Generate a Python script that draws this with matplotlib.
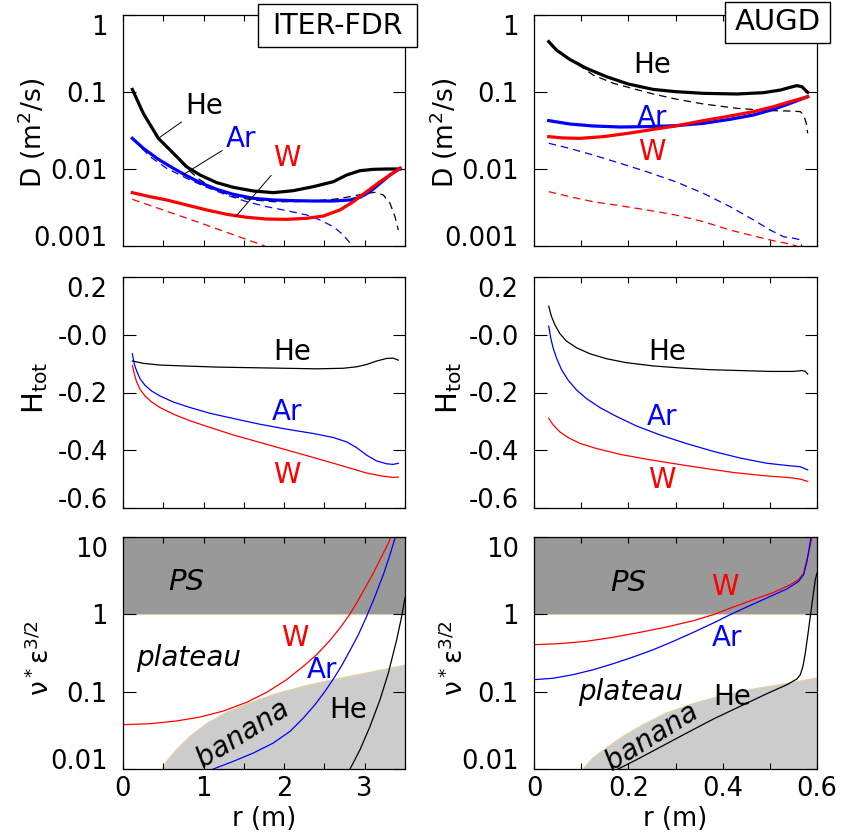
import numpy as np
import matplotlib
matplotlib.use("Agg")
import matplotlib.pyplot as plt
from matplotlib.patches import Rectangle
from matplotlib.ticker import FixedLocator, NullLocator

plt.rcParams['font.family'] = ['DejaVu Sans']
plt.rcParams['mathtext.fontset'] = 'dejavusans'

# ---------------- ITER-FDR : D (m^2/s) ----------------
iter_he_D_r = [0.116, 0.252, 0.439, 0.625, 0.790, 0.956, 1.163, 1.369, 1.618, 1.866, 2.114, 2.362, 2.611, 2.776, 2.942, 3.107, 3.273, 3.438]
iter_he_D = [0.108, 0.0528, 0.0250, 0.0160, 0.0107, 0.00836, 0.00665, 0.00578, 0.00518, 0.00493, 0.00523, 0.00590, 0.00684, 0.00836, 0.00951, 0.00990, 0.0100, 0.0100]
iter_he_Dn_r = [0.116, 0.252, 0.439, 0.625, 0.790, 0.956, 1.163, 1.369, 1.618, 1.866, 2.114, 2.362, 2.611, 2.818, 3.024, 3.128, 3.231, 3.314, 3.376, 3.417]
iter_he_Dn = [0.108, 0.0528, 0.0250, 0.0158, 0.0102, 0.0072, 0.00534, 0.00437, 0.00396, 0.00376, 0.00376, 0.00384, 0.00404, 0.00437, 0.00483, 0.00498, 0.00460, 0.00358, 0.0024, 0.00161]
iter_ar_D_r = [0.116, 0.252, 0.439, 0.625, 0.790, 0.956, 1.163, 1.369, 1.618, 1.866, 2.114, 2.362, 2.611, 2.818, 2.942, 3.066, 3.190, 3.314, 3.438]
iter_ar_D = [0.025, 0.01855, 0.01336, 0.0102, 0.00819, 0.00665, 0.00544, 0.00469, 0.00416, 0.00396, 0.00388, 0.00384, 0.00384, 0.00396, 0.00429, 0.00508, 0.00652, 0.00836, 0.0102]
iter_ar_Dn_r = [0.128, 0.335, 0.542, 0.790, 1.038, 1.287, 1.535, 1.783, 2.031, 2.280, 2.445, 2.611, 2.735, 2.838]
iter_ar_Dn = [0.0243, 0.0145, 0.0102, 0.00757, 0.00578, 0.0046, 0.00376, 0.00324, 0.00288, 0.00253, 0.00218, 0.00178, 0.00139, 0.00103]
iter_w_D_r = [0.116, 0.335, 0.542, 0.790, 1.038, 1.287, 1.535, 1.783, 2.031, 2.280, 2.487, 2.693, 2.859, 3.024, 3.190, 3.314, 3.438]
iter_w_D = [0.00493, 0.00437, 0.00396, 0.00341, 0.00294, 0.00258, 0.00236, 0.00224, 0.00222, 0.00229, 0.00245, 0.00294, 0.00376, 0.00508, 0.00684, 0.00836, 0.0102]
iter_w_Dn_r = [0.116, 0.95, 1.762]
iter_w_Dn = [0.00404, 0.00201, 0.001]

# ---------------- AUGD : D (m^2/s) ----------------
augd_he_D_r = [0.0312, 0.0475, 0.0758, 0.1112, 0.1537, 0.1998, 0.2529, 0.3003, 0.3591, 0.430, 0.4867, 0.5221, 0.5433, 0.5575, 0.5681, 0.5752, 0.5802]
augd_he_D = [0.451, 0.351, 0.265, 0.203, 0.158, 0.127, 0.108, 0.101, 0.0961, 0.0942, 0.098, 0.106, 0.115, 0.121, 0.117, 0.106, 0.099]
augd_he_Dn_r = [0.0312, 0.0475, 0.0758, 0.090, 0.1254, 0.1679, 0.1998, 0.2529, 0.3003, 0.3591, 0.430, 0.5008, 0.5362, 0.5646, 0.5717, 0.5773, 0.5802]
augd_he_Dn = [0.451, 0.351, 0.265, 0.236, 0.166, 0.130, 0.115, 0.0942, 0.0811, 0.0699, 0.0614, 0.0573, 0.0567, 0.0556, 0.0503, 0.0392, 0.0291]
augd_ar_D_r = [0.0312, 0.0758, 0.1254, 0.1820, 0.2387, 0.3003, 0.3591, 0.4158, 0.4654, 0.5079, 0.5433, 0.5802]
augd_ar_D = [0.0425, 0.0384, 0.0362, 0.0351, 0.0355, 0.0365, 0.0392, 0.0442, 0.0503, 0.0596, 0.0713, 0.0869]
augd_w_D_r = [0.0312, 0.0616, 0.0970, 0.1466, 0.1998, 0.2529, 0.3003, 0.3591, 0.4158, 0.4654, 0.5079, 0.5433, 0.5802]
augd_w_D = [0.0263, 0.0253, 0.025, 0.0263, 0.0291, 0.0327, 0.0362, 0.0425, 0.0488, 0.0556, 0.0645, 0.0749, 0.0869]
augd_ar_Dn_r = [0.0312, 0.0758, 0.1254, 0.1820, 0.2387, 0.3003, 0.3591, 0.4158, 0.4654, 0.5008, 0.5292, 0.5504, 0.5610, 0.5681]
augd_ar_Dn = [0.0216, 0.0185, 0.0152, 0.0119, 0.00923, 0.00684, 0.00483, 0.00324, 0.00218, 0.00161, 0.00132, 0.00126, 0.00122, 0.001]
augd_w_Dn_r = [0.0312, 0.0758, 0.1254, 0.1820, 0.2387, 0.3003, 0.3591, 0.4158, 0.4654, 0.5079, 0.5362, 0.5575]
augd_w_Dn = [0.00508, 0.00437, 0.00376, 0.00334, 0.00294, 0.00253, 0.00207, 0.00161, 0.00135, 0.00117, 0.00108, 0.001]

# ---------------- ITER-FDR : H_tot ----------------
iter_he_H_r = [0.116, 0.252, 0.459, 0.749, 1.163, 1.576, 1.990, 2.404, 2.735, 2.900, 3.024, 3.148, 3.273, 3.355, 3.417]
iter_he_H = [-0.091, -0.099, -0.105, -0.108, -0.112, -0.114, -0.116, -0.118, -0.116, -0.111, -0.103, -0.091, -0.082, -0.081, -0.088]
iter_ar_H_r = [0.116, 0.141, 0.170, 0.211, 0.273, 0.356, 0.459, 0.625, 0.832, 1.080, 1.369, 1.700, 2.031, 2.362, 2.611, 2.776, 2.900, 3.024, 3.148, 3.273, 3.355, 3.417]
iter_ar_H = [-0.066, -0.1025, -0.126, -0.152, -0.175, -0.195, -0.212, -0.233, -0.252, -0.272, -0.290, -0.310, -0.327, -0.342, -0.356, -0.371, -0.391, -0.417, -0.437, -0.447, -0.449, -0.445]
iter_w_H_r = [0.116, 0.141, 0.170, 0.211, 0.273, 0.356, 0.459, 0.625, 0.832, 1.080, 1.369, 1.700, 2.031, 2.362, 2.611, 2.818, 3.024, 3.231, 3.355, 3.417]
iter_w_H = [-0.106, -0.137, -0.164, -0.189, -0.212, -0.233, -0.252, -0.275, -0.298, -0.321, -0.347, -0.373, -0.399, -0.425, -0.445, -0.462, -0.479, -0.490, -0.494, -0.493]

# ---------------- AUGD : H_tot ----------------
augd_he_H_r = [0.0312, 0.0368, 0.0439, 0.0545, 0.0687, 0.090, 0.1183, 0.1537, 0.1962, 0.2529, 0.3096, 0.3733, 0.4371, 0.5008, 0.5504, 0.5681, 0.5752, 0.5802]
augd_he_H = [0.099, 0.0645, 0.0357, 0.0046, -0.0219, -0.0449, -0.0657, -0.083, -0.0968, -0.108, -0.115, -0.121, -0.124, -0.127, -0.127, -0.124, -0.127, -0.136]
augd_ar_H_r = [0.0312, 0.0354, 0.0404, 0.0475, 0.0581, 0.0723, 0.090, 0.1112, 0.1395, 0.1750, 0.2175, 0.2671, 0.3237, 0.3804, 0.4371, 0.4937, 0.5433, 0.5646, 0.5802]
augd_ar_H = [0.030, -0.0104, -0.0449, -0.0795, -0.120, -0.157, -0.191, -0.221, -0.252, -0.283, -0.316, -0.347, -0.377, -0.404, -0.427, -0.445, -0.454, -0.457, -0.468]
augd_w_H_r = [0.0312, 0.0404, 0.0545, 0.0723, 0.097, 0.1325, 0.1820, 0.2387, 0.2954, 0.3591, 0.4229, 0.4867, 0.5433, 0.5646, 0.5802]
augd_w_H = [-0.289, -0.312, -0.336, -0.356, -0.376, -0.394, -0.414, -0.431, -0.446, -0.462, -0.477, -0.488, -0.495, -0.500, -0.508]

# ---------------- ITER-FDR : nu* eps^3/2 ----------------
iter_ban_r = [0.488, 0.542, 0.666, 0.832, 1.038, 1.287, 1.576, 1.907, 2.280, 2.652, 3.024, 3.273, 3.500]
iter_ban = [0.01, 0.01256, 0.0178, 0.0264, 0.0385, 0.054, 0.0714, 0.0942, 0.1196, 0.146, 0.174, 0.196, 0.219]
iter_w_nu_r = [0.0, 0.335, 0.666, 0.956, 1.245, 1.535, 1.783, 2.031, 2.238, 2.404, 2.569, 2.693, 2.797, 2.900, 3.004, 3.107, 3.211, 3.294, 3.322]
iter_w_nu = [0.0374, 0.0385, 0.0418, 0.047, 0.0562, 0.0728, 0.098, 0.143, 0.213, 0.301, 0.461, 0.665, 0.942, 1.40, 2.19, 3.42, 5.62, 8.36, 10.0]
iter_ar_nu_r = [1.121, 1.369, 1.618, 1.866, 2.073, 2.238, 2.383, 2.507, 2.611, 2.714, 2.818, 2.921, 3.024, 3.128, 3.231, 3.314, 3.376]
iter_ar_nu = [0.01, 0.01256, 0.0161, 0.0217, 0.0307, 0.0456, 0.0679, 0.101, 0.146, 0.217, 0.342, 0.545, 0.942, 1.71, 3.26, 5.91, 9.70]
iter_he_nu_r = [2.818, 2.942, 3.066, 3.190, 3.293, 3.397, 3.459, 3.500]
iter_he_nu = [0.01, 0.0178, 0.0356, 0.0789, 0.174, 0.47, 0.942, 1.63]

# ---------------- AUGD : nu* eps^3/2 ----------------
augd_ban_r = [0.1041, 0.1254, 0.1537, 0.1891, 0.2316, 0.2812, 0.3379, 0.3946, 0.4583, 0.5221, 0.600]
augd_ban = [0.01, 0.0139, 0.0187, 0.0264, 0.0374, 0.053, 0.070, 0.0871, 0.106, 0.123, 0.150]
augd_w_nu_r = [0.0, 0.0545, 0.1112, 0.1679, 0.2246, 0.2812, 0.3379, 0.3804, 0.4229, 0.4654, 0.5079, 0.5433, 0.5610, 0.5717, 0.5787, 0.5844, 0.5894]
augd_w_nu = [0.405, 0.418, 0.448, 0.505, 0.585, 0.686, 0.828, 0.99, 1.245, 1.55, 1.92, 2.42, 2.81, 3.42, 5.1, 7.21, 10.0]
augd_ar_nu_r = [0.0, 0.0404, 0.0829, 0.1254, 0.1679, 0.2104, 0.2529, 0.2954, 0.3379, 0.3804, 0.4158, 0.4512, 0.4937, 0.5362, 0.5610, 0.5717, 0.5787, 0.5830, 0.5872]
augd_ar_nu = [0.143, 0.149, 0.166, 0.192, 0.230, 0.281, 0.349, 0.448, 0.585, 0.773, 0.99, 1.245, 1.63, 2.13, 2.67, 3.26, 4.84, 6.85, 10.0]
augd_he_nu_r = [0.1785, 0.2175, 0.2671, 0.3237, 0.3804, 0.4371, 0.4937, 0.5362, 0.5575, 0.5646, 0.5702, 0.5752, 0.5802, 0.5858, 0.5915, 0.5964, 0.600]
augd_he_nu = [0.01, 0.0132, 0.0191, 0.0292, 0.0443, 0.0646, 0.0942, 0.123, 0.146, 0.166, 0.213, 0.316, 0.52, 0.942, 1.71, 2.81, 3.42]

# ---------------- axis labels / ticks ----------------
D_ticks = [0.001, 0.01, 0.1, 1]
D_ticklabels = ['0.001', '0.01', '0.1', '1']
H_ticks = [-0.6, -0.4, -0.2, 0.0, 0.2]
H_ticklabels = ['-0.6', '-0.4', '-0.2', '-0.0', '0.2']
nu_ticks = [0.01, 0.1, 1, 10]
nu_ticklabels = ['0.01', '0.1', '1', '10']
iter_xticks = [0, 1, 2, 3]
iter_xticklabels = ['0', '1', '2', '3']
augd_xticks = [0, 0.2, 0.4, 0.6]
augd_xticklabels = ['0', '0.2', '0.4', '0.6']

BLACK, BLUE, RED = 'black', '#0000ff', '#ff0000'
FS = 18.5
LFS = 20

fig = plt.figure(figsize=(8.41, 8.40), dpi=100)
W_, H_ = 841.0, 840.0
cols = [(123, 405), (534, 817)]
rows = [(15, 246), (277, 508), (537, 769)]
axes = [[None, None] for _ in range(3)]
for i, (t, b) in enumerate(rows):
    for j, (l, r) in enumerate(cols):
        axes[i][j] = fig.add_axes([l / W_, 1 - b / H_, (r - l) / W_, (b - t) / H_])


def style(ax, xmax, xmajor, xminor, xlabels, bottom_labels):
    ax.set_xlim(0, xmax)
    ax.xaxis.set_major_locator(FixedLocator(xmajor))
    ax.xaxis.set_minor_locator(FixedLocator(xminor))
    if bottom_labels:
        ax.set_xticklabels(xlabels)
    else:
        ax.set_xticklabels([])
    ax.tick_params(axis='x', which='both', direction='in', top=True, bottom=True,
                   length=4, width=0.8, labelsize=FS, pad=5)
    ax.tick_params(axis='y', which='major', direction='in', left=True, right=True,
                   length=9, width=0.8, labelsize=FS, pad=11)
    ax.tick_params(axis='y', which='minor', left=False, right=False)
    for s in ax.spines.values():
        s.set_linewidth(0.9)


def set_y(ax, lo, hi, ticks, labels, log):
    if log:
        ax.set_yscale('log')
    ax.set_ylim(lo, hi)
    ax.yaxis.set_major_locator(FixedLocator(ticks))
    ax.yaxis.set_minor_locator(NullLocator())
    ax.set_yticklabels(labels)
    tl = ax.get_yticklabels()
    tl[0].set_va('baseline')
    tl[-1].set_va('top')


iter_minor = [0.5, 1.5, 2.5, 3.5]
augd_minor = [0.1, 0.3, 0.5]

# ---- Row 1: D ----
ax = axes[0][0]
ax.plot(iter_he_Dn_r, iter_he_Dn, color=BLACK, lw=0.9, ls=(0, (6, 4)))
ax.plot(iter_ar_Dn_r, iter_ar_Dn, color=BLUE, lw=0.9, ls=(0, (6, 4)))
ax.plot(iter_w_Dn_r, iter_w_Dn, color=RED, lw=0.9, ls=(0, (6, 4)))
ax.plot(iter_he_D_r, iter_he_D, color=BLACK, lw=2.3)
ax.plot(iter_ar_D_r, iter_ar_D, color=BLUE, lw=2.3)
ax.plot(iter_w_D_r, iter_w_D, color=RED, lw=2.3)
lead = dict(arrowstyle='-', color='black', lw=0.7, shrinkA=1, shrinkB=0)
ax.annotate('He', xy=(0.439, 0.025), xytext=(1.01, 0.0663), color=BLACK, fontsize=LFS,
            ha='center', va='center', arrowprops=lead)
ax.annotate('Ar', xy=(0.74, 0.00836), xytext=(1.47, 0.0248), color=BLUE, fontsize=LFS,
            ha='center', va='center', arrowprops=lead)
ax.annotate('W', xy=(1.40, 0.00242), xytext=(2.03, 0.0141), color=RED, fontsize=LFS,
            ha='center', va='center', arrowprops=lead)
style(ax, 3.5, iter_xticks, iter_minor, iter_xticklabels, False)
set_y(ax, 0.001, 1, D_ticks, D_ticklabels, True)

ax = axes[0][1]
ax.plot(augd_he_Dn_r, augd_he_Dn, color=BLACK, lw=0.9, ls=(0, (6, 4)))
ax.plot(augd_ar_Dn_r, augd_ar_Dn, color=BLUE, lw=0.9, ls=(0, (6, 4)))
ax.plot(augd_w_Dn_r, augd_w_Dn, color=RED, lw=0.9, ls=(0, (6, 4)))
ax.plot(augd_he_D_r, augd_he_D, color=BLACK, lw=2.3)
ax.plot(augd_ar_D_r, augd_ar_D, color=BLUE, lw=2.3)
ax.plot(augd_w_D_r, augd_w_D, color=RED, lw=2.3)
ax.text(0.25, 0.225, 'He', color=BLACK, fontsize=LFS, ha='center', va='center')
ax.text(0.25, 0.0463, 'Ar', color=BLUE, fontsize=LFS, ha='center', va='center')
ax.text(0.25, 0.0168, 'W', color=RED, fontsize=LFS, ha='center', va='center')
style(ax, 0.6, augd_xticks, augd_minor, augd_xticklabels, False)
set_y(ax, 0.001, 1, D_ticks, D_ticklabels, True)

# ---- Row 2: H_tot ----
ax = axes[1][0]
ax.plot(iter_he_H_r, iter_he_H, color=BLACK, lw=0.9)
ax.plot(iter_ar_H_r, iter_ar_H, color=BLUE, lw=0.9)
ax.plot(iter_w_H_r, iter_w_H, color=RED, lw=0.9)
ax.text(2.10, -0.06, 'He', color=BLACK, fontsize=LFS, ha='center', va='center')
ax.text(2.03, -0.2675, 'Ar', color=BLUE, fontsize=LFS, ha='center', va='center')
ax.text(2.03, -0.486, 'W', color=RED, fontsize=LFS, ha='center', va='center')
style(ax, 3.5, iter_xticks, iter_minor, iter_xticklabels, False)
set_y(ax, -0.6, 0.2, H_ticks, H_ticklabels, False)

ax = axes[1][1]
ax.plot(augd_he_H_r, augd_he_H, color=BLACK, lw=0.9)
ax.plot(augd_ar_H_r, augd_ar_H, color=BLUE, lw=0.9)
ax.plot(augd_w_H_r, augd_w_H, color=RED, lw=0.9)
ax.text(0.282, -0.06, 'He', color=BLACK, fontsize=LFS, ha='center', va='center')
ax.text(0.271, -0.285, 'Ar', color=BLUE, fontsize=LFS, ha='center', va='center')
ax.text(0.271, -0.503, 'W', color=RED, fontsize=LFS, ha='center', va='center')
style(ax, 0.6, augd_xticks, augd_minor, augd_xticklabels, False)
set_y(ax, -0.6, 0.2, H_ticks, H_ticklabels, False)

# ---- Row 3: collisionality ----
PS_COL, BAN_COL, EDGE = '#999999', '#cccccc', '#e2cfa8'
for j, (xmax, br, bv) in enumerate([(3.5, iter_ban_r, iter_ban), (0.6, augd_ban_r, augd_ban)]):
    ax = axes[2][j]
    ax.axhspan(1, 10, facecolor=PS_COL, edgecolor='none', zorder=0)
    ax.axhline(1, color=EDGE, lw=0.8, zorder=0.5)
    ax.fill_between(br, 0.01, bv, facecolor=BAN_COL, edgecolor='none', zorder=0)
    ax.plot(br, bv, color=EDGE, lw=1.0, zorder=0.5)

ax = axes[2][0]
ax.plot(iter_w_nu_r, iter_w_nu, color=RED, lw=0.9)
ax.plot(iter_ar_nu_r, iter_ar_nu, color=BLUE, lw=0.9)
ax.plot(iter_he_nu_r, iter_he_nu, color=BLACK, lw=0.9)
ax.text(0.79, 2.62, 'PS', style='italic', fontsize=21, ha='center', va='center')
ax.text(0.81, 0.272, 'plateau', style='italic', fontsize=LFS, ha='center', va='center')
ax.text(1.49, 0.029, 'banana', style='italic', fontsize=LFS, ha='center', va='center', rotation=32)
ax.text(2.13, 0.494, 'W', color=RED, fontsize=LFS, ha='center', va='center')
ax.text(2.47, 0.19, 'Ar', color=BLUE, fontsize=LFS, ha='center', va='center')
ax.text(2.79, 0.058, 'He', color=BLACK, fontsize=LFS, ha='center', va='center')
style(ax, 3.5, iter_xticks, iter_minor, iter_xticklabels, True)
set_y(ax, 0.01, 10, nu_ticks, nu_ticklabels, True)

ax = axes[2][1]
ax.plot(augd_w_nu_r, augd_w_nu, color=RED, lw=0.9)
ax.plot(augd_ar_nu_r, augd_ar_nu, color=BLUE, lw=0.9)
ax.plot(augd_he_nu_r, augd_he_nu, color=BLACK, lw=0.9)
ax.text(0.199, 2.54, 'PS', style='italic', fontsize=21, ha='center', va='center')
ax.text(0.204, 0.099, 'plateau', style='italic', fontsize=LFS, ha='center', va='center')
ax.text(0.25, 0.026, 'banana', style='italic', fontsize=LFS, ha='center', va='center', rotation=32)
ax.text(0.405, 2.26, 'W', color=RED, fontsize=LFS, ha='center', va='center')
ax.text(0.409, 0.494, 'Ar', color=BLUE, fontsize=LFS, ha='center', va='center')
ax.text(0.42, 0.0853, 'He', color=BLACK, fontsize=LFS, ha='center', va='center')
style(ax, 0.6, augd_xticks, augd_minor, augd_xticklabels, True)
set_y(ax, 0.01, 10, nu_ticks, nu_ticklabels, True)

# ---- axis titles ----
ylabs = ['D (m$^2$/s)', 'H$_{\\rm tot}$', 'ν$^*$ε$^{3/2}$']
ylfs = [19, 21, 19]
ylx = [(-0.325, -0.32), (-0.31, -0.30), (-0.29, -0.28)]
yly = [0.49, 0.52, 0.48]
for i in range(3):
    for j in range(2):
        ax = axes[i][j]
        ax.set_ylabel(ylabs[i], fontsize=ylfs[i], va='center', ha='center')
        ax.yaxis.set_label_coords(ylx[i][j], yly[i])
for j in range(2):
    ax = axes[2][j]
    ax.set_xlabel('r (m)', fontsize=FS, va='center')
    ax.xaxis.set_label_coords(0.5, -0.215)

# ---- device boxes ----
fig.patches.append(Rectangle((258 / W_, 1 - 47 / H_), 159 / W_, 43 / H_, transform=fig.transFigure,
                             facecolor='white', edgecolor='black', lw=1.0, zorder=5))
fig.text(337.5 / W_, 1 - 25.5 / H_, 'ITER-FDR', fontsize=20.5, ha='center', va='center', zorder=6)
fig.patches.append(Rectangle((725 / W_, 1 - 43 / H_), 105 / W_, 41 / H_, transform=fig.transFigure,
                             facecolor='white', edgecolor='black', lw=1.0, zorder=5))
fig.text(777.5 / W_, 1 - 22.5 / H_, 'AUGD', fontsize=21, ha='center', va='center', zorder=6)

fig.savefig('out.png', dpi=100)
